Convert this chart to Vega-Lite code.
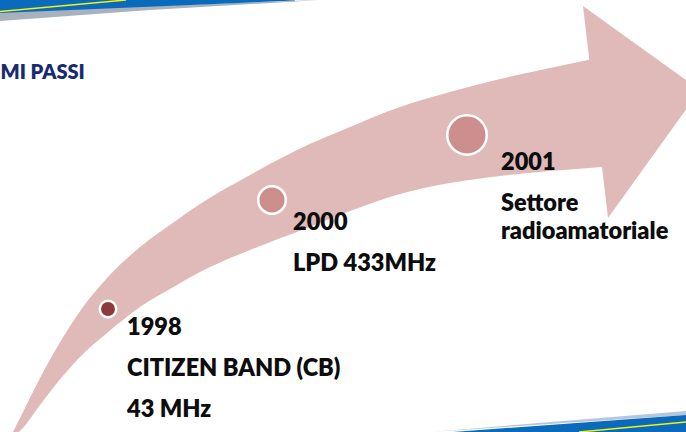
{
  "$schema": "https://vega.github.io/schema/vega-lite/v6.json",
  "width": 686,
  "height": 432,
  "autosize": {"type": "none"},
  "padding": 0,
  "background": "white",
  "config": {"view": {"stroke": null}},
  "datasets": {
    "shaft": [
      {"x": 13, "top": 432, "bot": 436},
      {"x": 20, "top": 418, "bot": 431},
      {"x": 40, "top": 378, "bot": 405},
      {"x": 62, "top": 339, "bot": 377},
      {"x": 83, "top": 307, "bot": 354},
      {"x": 107, "top": 278, "bot": 333},
      {"x": 140, "top": 247, "bot": 307},
      {"x": 177, "top": 220, "bot": 285},
      {"x": 200, "top": 204, "bot": 272},
      {"x": 250, "top": 175, "bot": 250},
      {"x": 297, "top": 150, "bot": 232},
      {"x": 350, "top": 127, "bot": 211},
      {"x": 400, "top": 107, "bot": 194},
      {"x": 450, "top": 92, "bot": 183},
      {"x": 500, "top": 79, "bot": 176},
      {"x": 550, "top": 68, "bot": 171},
      {"x": 602, "top": 57, "bot": 167}
    ],
    "head": [
      {"x": 583, "top": 6, "bot": 6},
      {"x": 608, "top": 24, "bot": 218},
      {"x": 700, "top": 90, "bot": 90}
    ],
    "milestones": [
      {"year": "1998", "x": 108, "y": 309},
      {"year": "2000", "x": 272, "y": 200},
      {"year": "2001", "x": 467, "y": 135}
    ],
    "labels": [
      {"x": 127, "y": 335, "text": "1998"},
      {"x": 127, "y": 376, "text": "CITIZEN BAND (CB)"},
      {"x": 127, "y": 417, "text": "43 MHz"},
      {"x": 293, "y": 230, "text": "2000"},
      {"x": 293, "y": 271, "text": "LPD 433MHz"},
      {"x": 501, "y": 170, "text": "2001"},
      {"x": 501, "y": 211, "text": "Settore"},
      {"x": 501, "y": 239, "text": "radioamatoriale"}
    ],
    "title": [{"x": 0.5, "y": 79, "text": "MI PASSI"}],
    "topShadow": [
      {"x": 0, "top": 12, "bot": 21},
      {"x": 150, "top": 6, "bot": 10},
      {"x": 320, "top": 0, "bot": 0}
    ],
    "topBlue": [
      {"x": 0, "top": 0, "bot": 13},
      {"x": 295, "top": 0, "bot": 0.5}
    ],
    "topYellow": [
      {"x": 0, "y": 11.5},
      {"x": 126, "y": 0}
    ],
    "botShadow": [
      {"x": 430, "top": 432, "bot": 432},
      {"x": 686, "top": 411, "bot": 415}
    ],
    "botBlue": [
      {"x": 453, "top": 432, "bot": 432},
      {"x": 686, "top": 415, "bot": 432}
    ],
    "botYellow": [
      {"x": 579, "y": 432},
      {"x": 686, "y": 422}
    ]
  },
  "layer": [
    {
      "data": {"name": "shaft"},
      "mark": {"type": "area", "orient": "vertical", "interpolate": "monotone", "color": "#DFBAB9", "clip": true},
      "encoding": {
        "x": {"field": "x", "type": "quantitative", "scale": {"domain": [0, 686], "nice": false, "zero": false}, "axis": null},
        "y": {"field": "top", "type": "quantitative", "scale": {"domain": [0, 432], "nice": false, "zero": false, "reverse": true}, "axis": null},
        "y2": {"field": "bot"}
      }
    },
    {
      "data": {"name": "head"},
      "mark": {"type": "area", "orient": "vertical", "color": "#DFBAB9", "clip": true},
      "encoding": {
        "x": {"field": "x", "type": "quantitative"},
        "y": {"field": "top", "type": "quantitative"},
        "y2": {"field": "bot"}
      }
    },
    {
      "data": {"name": "milestones"},
      "mark": {"type": "circle", "opacity": 1, "stroke": "white", "strokeWidth": 2.5},
      "encoding": {
        "x": {"field": "x", "type": "quantitative"},
        "y": {"field": "y", "type": "quantitative"},
        "size": {"field": "year", "type": "nominal", "scale": {"type": "ordinal", "domain": ["1998", "2000", "2001"], "range": [270, 760, 1560]}, "legend": null},
        "color": {"field": "year", "type": "nominal", "scale": {"domain": ["1998", "2000", "2001"], "range": ["#8E3A3A", "#CC8F8E", "#CC8F8E"]}, "legend": null}
      }
    },
    {
      "data": {"name": "labels"},
      "mark": {"type": "text", "align": "left", "baseline": "alphabetic", "font": "Lato", "fontWeight": 800, "fontSize": 23.5, "color": "#0D0D0D"},
      "encoding": {
        "x": {"field": "x", "type": "quantitative"},
        "y": {"field": "y", "type": "quantitative"},
        "text": {"field": "text"}
      }
    },
    {
      "data": {"name": "title"},
      "mark": {"type": "text", "align": "left", "baseline": "alphabetic", "font": "Lato", "fontWeight": 800, "fontSize": 20, "color": "#172B6E"},
      "encoding": {
        "x": {"field": "x", "type": "quantitative"},
        "y": {"field": "y", "type": "quantitative"},
        "text": {"field": "text"}
      }
    },
    {
      "data": {"name": "topShadow"},
      "mark": {"type": "area", "orient": "vertical", "color": "#A9B1BD", "clip": true},
      "encoding": {
        "x": {"field": "x", "type": "quantitative"},
        "y": {"field": "top", "type": "quantitative"},
        "y2": {"field": "bot"}
      }
    },
    {
      "data": {"name": "topBlue"},
      "mark": {"type": "area", "orient": "vertical", "color": "#0A6BBD", "clip": true},
      "encoding": {
        "x": {"field": "x", "type": "quantitative"},
        "y": {"field": "top", "type": "quantitative"},
        "y2": {"field": "bot"}
      }
    },
    {
      "data": {"name": "topYellow"},
      "mark": {"type": "line", "color": "#F2F20A", "strokeWidth": 1.5, "clip": true},
      "encoding": {
        "x": {"field": "x", "type": "quantitative"},
        "y": {"field": "y", "type": "quantitative"}
      }
    },
    {
      "data": {"name": "botShadow"},
      "mark": {"type": "area", "orient": "vertical", "color": "#B7C6DA", "clip": true},
      "encoding": {
        "x": {"field": "x", "type": "quantitative"},
        "y": {"field": "top", "type": "quantitative"},
        "y2": {"field": "bot"}
      }
    },
    {
      "data": {"name": "botBlue"},
      "mark": {"type": "area", "orient": "vertical", "color": "#0A6BBD", "clip": true},
      "encoding": {
        "x": {"field": "x", "type": "quantitative"},
        "y": {"field": "top", "type": "quantitative"},
        "y2": {"field": "bot"}
      }
    },
    {
      "data": {"name": "botYellow"},
      "mark": {"type": "line", "color": "#F2F20A", "strokeWidth": 1.5, "clip": true},
      "encoding": {
        "x": {"field": "x", "type": "quantitative"},
        "y": {"field": "y", "type": "quantitative"}
      }
    }
  ]
}
